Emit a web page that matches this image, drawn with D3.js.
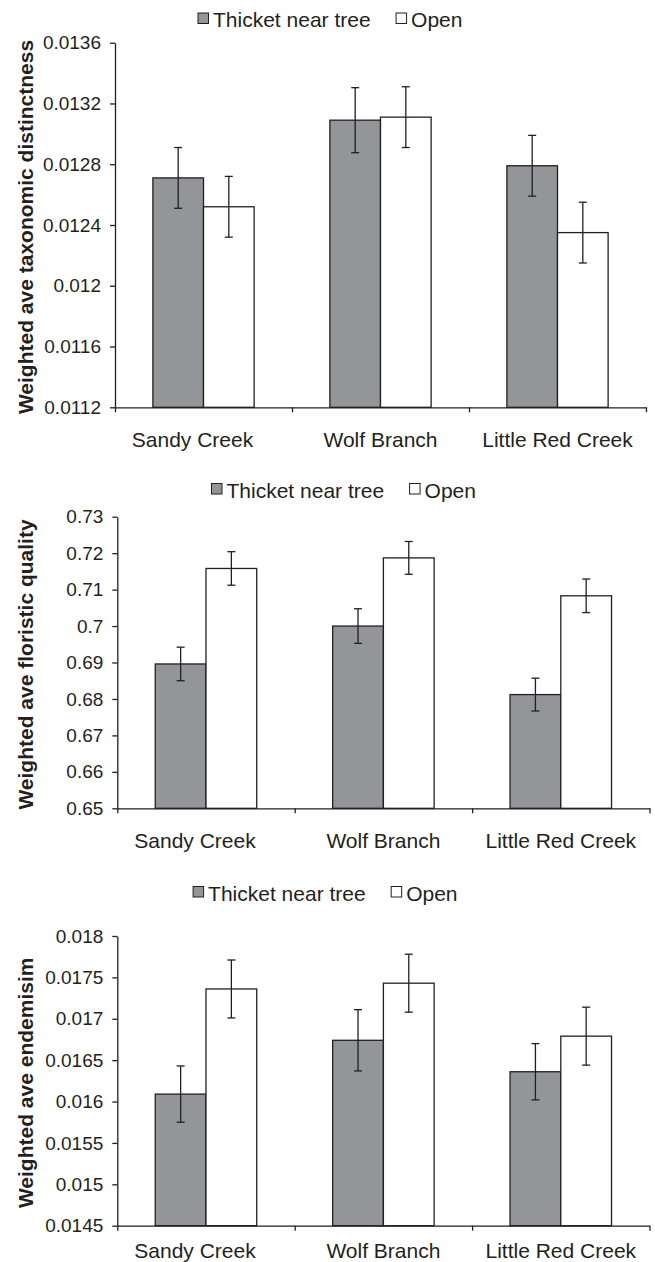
<!DOCTYPE html>
<html>
<head>
<meta charset="utf-8">
<script src="https://cdn.jsdelivr.net/npm/d3@7"></script>
<style>
  html, body { margin: 0; padding: 0; background: #fff; }
  svg { display: block; }
  text { font-family: "Liberation Sans", Arial, sans-serif; fill: #231f20; }
</style>
</head>
<body>
<svg id="chart" width="655" height="1262"></svg>
<script>
// ---------- data ----------
const categories = ["Sandy Creek", "Wolf Branch", "Little Red Creek"];
const seriesNames = ["Thicket near tree", "Open"];

const taxThicket    = [0.01271, 0.01309, 0.01279];
const taxThicketErr = [0.00020, 0.000214, 0.00020];
const taxOpen       = [0.01252, 0.01311, 0.01235];
const taxOpenErr    = [0.00020, 0.00020, 0.00020];
const taxTicks      = [0.0112, 0.0116, 0.012, 0.0124, 0.0128, 0.0132, 0.0136];
const taxTickLabels = ["0.0112", "0.0116", "0.012", "0.0124", "0.0128", "0.0132", "0.0136"];

const floThicket    = [0.6896, 0.7000, 0.6812];
const floThicketErr = [0.0046, 0.00475, 0.0045];
const floOpen       = [0.7158, 0.7187, 0.7083];
const floOpenErr    = [0.0046, 0.0045, 0.0046];
const floTicks      = [0.65, 0.66, 0.67, 0.68, 0.69, 0.70, 0.71, 0.72, 0.73];
const floTickLabels = ["0.65", "0.66", "0.67", "0.68", "0.69", "0.7", "0.71", "0.72", "0.73"];

const endThicket    = [0.01609, 0.01674, 0.01636];
const endThicketErr = [0.00034, 0.00037, 0.00034];
const endOpen       = [0.01736, 0.01743, 0.01679];
const endOpenErr    = [0.00035, 0.00035, 0.00035];
const endTicks      = [0.0145, 0.015, 0.0155, 0.016, 0.0165, 0.017, 0.0175, 0.018];
const endTickLabels = ["0.0145", "0.015", "0.0155", "0.016", "0.0165", "0.017", "0.0175", "0.018"];

const yTitles = ["Weighted ave taxonomic distinctness", "Weighted ave floristic quality", "Weighted ave endemisim"];

// ---------- styling / layout ----------
const ink = "#231f20";
const fills = ["#939598", "#ffffff"];

const panels = [
  { title: yTitles[0], thicket: taxThicket, thicketErr: taxThicketErr, open: taxOpen, openErr: taxOpenErr,
    ticks: taxTicks, tickLabels: taxTickLabels,
    left: 115, right: 646, top: 42.7, bottom: 407.3, legendX: 197.5, legendY: 27, labelY: 446.5 },
  { title: yTitles[1], thicket: floThicket, thicketErr: floThicketErr, open: floOpen, openErr: floOpenErr,
    ticks: floTicks, tickLabels: floTickLabels,
    left: 117.3, right: 649.5, top: 516.7, bottom: 808.3, legendX: 211, legendY: 497.5, labelY: 847.5 },
  { title: yTitles[2], thicket: endThicket, thicketErr: endThicketErr, open: endOpen, openErr: endOpenErr,
    ticks: endTicks, tickLabels: endTickLabels,
    left: 117.3, right: 649.5, top: 936, bottom: 1225.7, legendX: 192.6, legendY: 900.5, labelY: 1258 }
];

const svg = d3.select("#chart");

panels.forEach(p => {
  const g = svg.append("g");
  const domain = [p.ticks[0], p.ticks[p.ticks.length - 1]];
  const y = d3.scaleLinear().domain(domain).range([p.bottom, p.top]);
  const x0 = d3.scaleBand().domain(categories).range([p.left, p.right]).paddingInner(0).paddingOuter(0);
  const barW = x0.bandwidth() * 0.286;
  const x1 = d3.scaleBand().domain(seriesNames).range([0, barW * 2]);

  // y axis
  const yAxis = d3.axisLeft(y).tickValues(p.ticks)
    .tickFormat((d, i) => p.tickLabels[i]).tickSize(5).tickSizeOuter(0).tickPadding(9);
  const ya = g.append("g").attr("transform", `translate(${p.left},0)`).call(yAxis);
  ya.select(".domain").attr("stroke", ink).attr("stroke-width", 1.3);
  ya.selectAll(".tick line").attr("stroke", ink).attr("stroke-width", 1.3);
  ya.selectAll(".tick text").attr("font-size", 19).attr("fill", ink)
    .style("font-family", '"Liberation Sans", Arial, sans-serif');

  // bars
  const rows = categories.map((c, i) => ({
    cat: c,
    vals: [
      { s: seriesNames[0], v: p.thicket[i], e: p.thicketErr[i] },
      { s: seriesNames[1], v: p.open[i], e: p.openErr[i] }
    ]
  }));
  const grp = g.selectAll("g.cat").data(rows).join("g").attr("class", "cat")
    .attr("transform", d => `translate(${x0(d.cat) + (x0.bandwidth() - barW * 2) / 2},0)`);
  grp.selectAll("rect").data(d => d.vals).join("rect")
    .attr("x", d => x1(d.s))
    .attr("y", d => y(d.v))
    .attr("width", x1.bandwidth())
    .attr("height", d => y(domain[0]) - y(d.v))
    .attr("fill", (d, i) => fills[i])
    .attr("stroke", ink).attr("stroke-width", 1.3);

  // error bars
  const eb = grp.selectAll("g.err").data(d => d.vals).join("g").attr("class", "err")
    .attr("stroke", ink).attr("stroke-width", 1.3);
  eb.append("line")
    .attr("x1", d => x1(d.s) + x1.bandwidth() / 2).attr("x2", d => x1(d.s) + x1.bandwidth() / 2)
    .attr("y1", d => y(d.v + d.e)).attr("y2", d => y(d.v - d.e));
  eb.append("line")
    .attr("x1", d => x1(d.s) + x1.bandwidth() / 2 - 4).attr("x2", d => x1(d.s) + x1.bandwidth() / 2 + 4)
    .attr("y1", d => y(d.v + d.e)).attr("y2", d => y(d.v + d.e));
  eb.append("line")
    .attr("x1", d => x1(d.s) + x1.bandwidth() / 2 - 4).attr("x2", d => x1(d.s) + x1.bandwidth() / 2 + 4)
    .attr("y1", d => y(d.v - d.e)).attr("y2", d => y(d.v - d.e));

  // x axis (ticks at category boundaries)
  const xb = d3.scaleLinear().domain([0, categories.length]).range([p.left, p.right]);
  const xAxis = d3.axisBottom(xb).tickValues(d3.range(categories.length + 1))
    .tickFormat("").tickSize(5).tickSizeOuter(0);
  const xa = g.append("g").attr("transform", `translate(0,${p.bottom})`).call(xAxis);
  xa.select(".domain").attr("stroke", ink).attr("stroke-width", 1.3);
  xa.selectAll(".tick line").attr("stroke", ink).attr("stroke-width", 1.3);

  // category labels
  g.selectAll("text.cat").data(categories).join("text").attr("class", "cat")
    .attr("x", d => x0(d) + x0.bandwidth() / 2)
    .attr("dx", (d, i) => i === 0 ? -11 : 0)
    .attr("y", p.labelY)
    .attr("text-anchor", "middle")
    .attr("font-size", 21)
    .text(d => d);

  // y title
  g.append("text")
    .attr("transform", `translate(33,${(p.top + p.bottom) / 2 + 2}) rotate(-90)`)
    .attr("text-anchor", "middle")
    .attr("font-size", 21).attr("font-weight", "bold")
    .text(p.title);

  // legend
  const lg = g.append("g").attr("transform", `translate(${p.legendX},${p.legendY})`);
  let cx = 0;
  seriesNames.forEach((s, i) => {
    lg.append("rect").attr("x", cx + 0.5).attr("y", -14).attr("width", 10.5).attr("height", 10.5)
      .attr("fill", fills[i]).attr("stroke", ink).attr("stroke-width", 1);
    const t = lg.append("text").attr("x", cx + 15.5).attr("y", 0).attr("font-size", 21).text(s);
    cx += 15.5 + t.node().getComputedTextLength() + 25;
  });
});
</script>
</body>
</html>
